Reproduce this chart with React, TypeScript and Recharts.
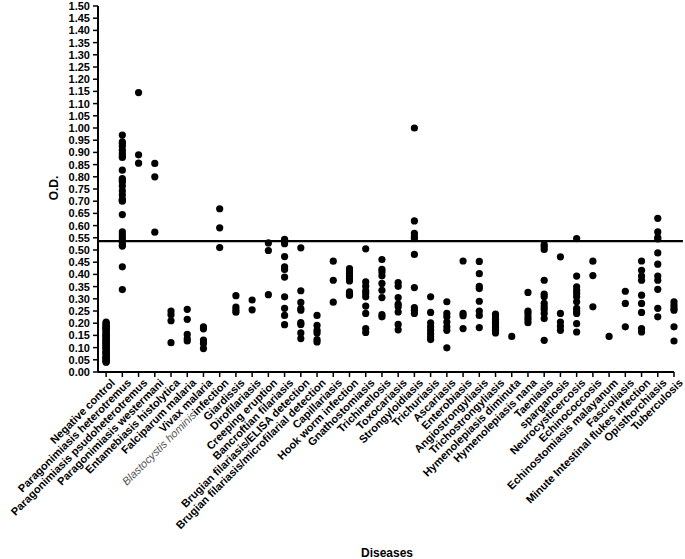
import { ScatterChart, Scatter, XAxis, YAxis, ReferenceLine } from "recharts";

const diseases = [
  "Negative control",
  "Paragonimiasis heterotremus",
  "Paragonimiasis psudoheterotremus",
  "Paragonimiasis westermani",
  "Entamebiasis histolytica",
  "Falciparum malaria",
  "Vivax malaria",
  "Blastocystis hominisinfection",
  "Giardissis",
  "Dirofilariasis",
  "Creeping eruption",
  "Bancroftian filariasis",
  "Brugian filariasis/ELISA detection",
  "Brugian filariasis/microfilarial detection",
  "Capillariasis",
  "Hook worm infection",
  "Gnathostomiasis",
  "Trichinellosis",
  "Toxocariasis",
  "Strongyloidiasis",
  "Trichuriasis",
  "Ascariasis",
  "Enterobiasis",
  "Angiostrongyliasis",
  "Trichostrongyliasis",
  "Hymenolepiasis diminuta",
  "Hymenolepiasis nana",
  "Taeniasis",
  "sparganosis",
  "Neurocysticercosis",
  "Echinococcosis",
  "Echinostomiasis malayanum",
  "Fascioliasis",
  "Minute Intestinal flukes infection",
  "Opisthorchiasis",
  "Tuberculosis",
];

const negativeControl = [0.205, 0.2, 0.195, 0.19, 0.185, 0.182, 0.18, 0.178, 0.175, 0.17, 0.165, 0.16, 0.155, 0.15, 0.148, 0.145, 0.14, 0.135, 0.132, 0.13, 0.125, 0.12, 0.118, 0.115, 0.11, 0.105, 0.1, 0.098, 0.095, 0.09, 0.085, 0.08, 0.078, 0.075, 0.07, 0.065, 0.06, 0.058, 0.055, 0.05, 0.048, 0.045, 0.042, 0.04];
const heterotremus = [0.971, 0.943, 0.935, 0.925, 0.909, 0.896, 0.885, 0.879, 0.827, 0.793, 0.785, 0.779, 0.762, 0.742, 0.725, 0.708, 0.703, 0.7, 0.645, 0.574, 0.561, 0.55, 0.54, 0.533, 0.52, 0.516, 0.431, 0.338];
const psudoheterotremus = [1.145, 0.89, 0.856];
const westermani = [0.855, 0.8, 0.573];
const entamebiasis = [0.25, 0.235, 0.21, 0.12];
const falciparum = [0.257, 0.216, 0.154, 0.136, 0.127];
const vivax = [0.185, 0.177, 0.131, 0.117, 0.096];
const blastocystis = [0.669, 0.591, 0.51];
const giardissis = [0.313, 0.266, 0.255, 0.245];
const dirofilariasis = [0.295, 0.255];
const creepingEruption = [0.529, 0.498, 0.317];
const bancroftian = [0.544, 0.537, 0.526, 0.473, 0.431, 0.42, 0.389, 0.308, 0.261, 0.232, 0.194];
const brugianElisa = [0.509, 0.333, 0.285, 0.26, 0.253, 0.202, 0.195, 0.16, 0.137];
const brugianMicro = [0.232, 0.191, 0.171, 0.16, 0.133, 0.123];
const capillariasis = [0.454, 0.376, 0.286];
const hookWorm = [0.424, 0.415, 0.404, 0.393, 0.383, 0.373, 0.328, 0.319, 0.314];
const gnathostomiasis = [0.505, 0.369, 0.351, 0.333, 0.322, 0.308, 0.27, 0.24, 0.178, 0.162];
const trichinellosis = [0.461, 0.421, 0.41, 0.394, 0.363, 0.335, 0.305, 0.235, 0.226];
const toxocariasis = [0.366, 0.351, 0.305, 0.278, 0.267, 0.246, 0.195, 0.173];
const strongyloidiasis = [1.0, 0.619, 0.568, 0.554, 0.547, 0.482, 0.346, 0.264, 0.253, 0.24];
const trichuriasis = [0.308, 0.244, 0.201, 0.185, 0.171, 0.157, 0.144, 0.133];
const ascariasis = [0.288, 0.24, 0.226, 0.205, 0.185, 0.171, 0.099];
const enterobiasis = [0.455, 0.24, 0.231, 0.178];
const angiostrongyliasis = [0.453, 0.403, 0.351, 0.342, 0.29, 0.25, 0.232, 0.182];
const trichostrongyliasis = [0.237, 0.226, 0.215, 0.204, 0.193, 0.182, 0.171, 0.16];
const hDiminuta = [0.146];
const hNana = [0.326, 0.25, 0.24, 0.226, 0.215, 0.202];
const taeniasis = [0.522, 0.513, 0.502, 0.376, 0.319, 0.308, 0.281, 0.267, 0.256, 0.24, 0.219, 0.13];
const sparganosis = [0.472, 0.24, 0.205, 0.187, 0.171];
const neurocysticercosis = [0.547, 0.393, 0.349, 0.335, 0.322, 0.308, 0.288, 0.261, 0.25, 0.24, 0.198, 0.164];
const echinococcosis = [0.454, 0.395, 0.267];
const echinostomiasis = [0.146];
const fascioliasis = [0.331, 0.281, 0.185];
const minuteFlukes = [0.455, 0.417, 0.393, 0.376, 0.315, 0.281, 0.244, 0.178, 0.164];
const opisthorchiasis = [0.63, 0.574, 0.551, 0.545, 0.488, 0.442, 0.393, 0.376, 0.339, 0.261, 0.226];
const tuberculosis = [0.288, 0.274, 0.261, 0.253, 0.185, 0.127];

const groups = [
  negativeControl, heterotremus, psudoheterotremus, westermani, entamebiasis, falciparum, vivax,
  blastocystis, giardissis, dirofilariasis, creepingEruption, bancroftian, brugianElisa, brugianMicro,
  capillariasis, hookWorm, gnathostomiasis, trichinellosis, toxocariasis, strongyloidiasis, trichuriasis,
  ascariasis, enterobiasis, angiostrongyliasis, trichostrongyliasis, hDiminuta, hNana, taeniasis,
  sparganosis, neurocysticercosis, echinococcosis, echinostomiasis, fascioliasis, minuteFlukes,
  opisthorchiasis, tuberculosis,
];

const cutoff = 0.536;

const yTicks = [0, 0.05, 0.1, 0.15, 0.2, 0.25, 0.3, 0.35, 0.4, 0.45, 0.5, 0.55, 0.6, 0.65, 0.7, 0.75, 0.8, 0.85, 0.9, 0.95, 1.0, 1.05, 1.1, 1.15, 1.2, 1.25, 1.3, 1.35, 1.4, 1.45, 1.5];

const font = "'Liberation Sans', Arial, sans-serif";

const points = groups.flatMap((vals, i) => vals.map((v) => ({ x: i, y: v })));

const XTick = (props: any) => {
  const { x, y, payload } = props;
  const name = diseases[payload.value];
  const isBlasto = payload.value === 7;
  return (
    <g transform={`translate(${x + 4},${y - 1})`}>
      <text
        x={0}
        y={0}
        dy="0.71em"
        textAnchor="end"
        transform="rotate(-45)"
        fontFamily={font}
        fontSize={11}
        fontWeight="bold"
        fill="#000"
      >
        {isBlasto ? (
          <>
            <tspan fontStyle="italic" fontWeight="normal" fill="#555">Blastocystis hominis</tspan>
            <tspan>infection</tspan>
          </>
        ) : (
          name
        )}
      </text>
    </g>
  );
};

const Dot = (props: any) => <circle cx={props.cx} cy={props.cy} r={3.6} fill="#000" />;

export default function App() {
  return (
    <div style={{ position: "absolute", left: 0, top: 0, width: 685, height: 559, background: "#fff" }}>
      <ScatterChart width={685} height={559} margin={{ top: 6, right: 11, bottom: 0, left: 0 }}>
        <XAxis
          type="number"
          dataKey="x"
          domain={[-0.5, 35]}
          ticks={diseases.map((_, i) => i)}
          interval={0}
          height={187}
          tick={<XTick />}
          tickSize={5}
          stroke="#000"
          strokeWidth={2}
          tickLine={{ stroke: "#000", strokeWidth: 1.5 }}
        />
        <YAxis
          type="number"
          dataKey="y"
          domain={[0, 1.5]}
          ticks={yTicks}
          interval={0}
          width={98}
          tickSize={5}
          tickMargin={3}
          stroke="#000"
          strokeWidth={2}
          tickLine={{ stroke: "#000", strokeWidth: 1.5 }}
          tickFormatter={(v: number) => v.toFixed(2)}
          tick={{ fontFamily: font, fontSize: 11, fontWeight: "bold", fill: "#000" }}
        />
        <ReferenceLine
          segment={[{ x: -0.5, y: cutoff }, { x: 35.55, y: cutoff }]}
          stroke="#000"
          strokeWidth={2.2}
          ifOverflow="visible"
        />
        <Scatter data={points} shape={<Dot />} isAnimationActive={false} />
      </ScatterChart>
      <div
        style={{
          position: "absolute",
          left: 54,
          top: 188,
          transform: "translate(-50%, -50%) rotate(-90deg)",
          fontFamily: font,
          fontSize: 12,
          fontWeight: "bold",
          whiteSpace: "nowrap",
        }}
      >
        O.D.
      </div>
      <div
        style={{
          position: "absolute",
          left: 387,
          top: 553,
          transform: "translate(-50%, -50%)",
          fontFamily: font,
          fontSize: 12,
          fontWeight: "bold",
          whiteSpace: "nowrap",
        }}
      >
        Diseases
      </div>
    </div>
  );
}
